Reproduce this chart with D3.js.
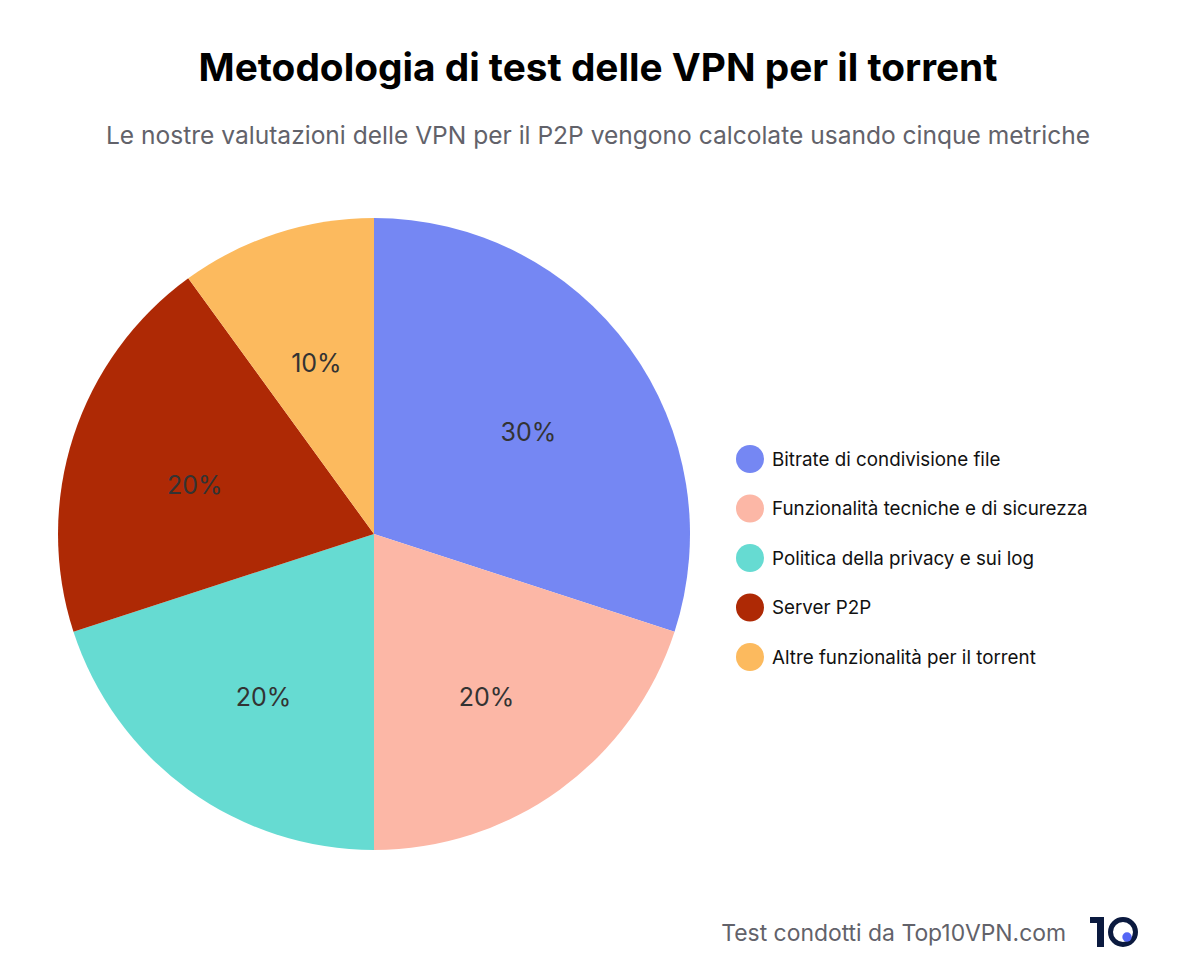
<!DOCTYPE html>
<html>
<head>
<meta charset="utf-8">
<script src="https://cdn.jsdelivr.net/npm/d3@7"></script>
<style>
body { margin: 0; background: #fff; }
text { font-family: "Inter", "Lato", sans-serif; }
</style>
</head>
<body>
<script>
const categories = ["Bitrate di condivisione file", "Funzionalità tecniche e di sicurezza", "Politica della privacy e sui log", "Server P2P", "Altre funzionalità per il torrent"];
const values = [30, 20, 20, 20, 10];
const colors = ["#7587F3", "#FCB7A6", "#66DBD2", "#AE2905", "#FCBA5E"];

const width = 1178, height = 980;
const svg = d3.select("body").append("svg")
    .attr("width", width)
    .attr("height", height)
    .style("display", "block");

svg.append("text").attr("x", 598).attr("y", 81)
    .attr("text-anchor", "middle")
    .attr("font-size", 38.8).attr("font-weight", 700).attr("fill", "#000")
    .text("Metodologia di test delle VPN per il torrent");

svg.append("text").attr("x", 598).attr("y", 144)
    .attr("text-anchor", "middle")
    .attr("font-size", 24.55).attr("fill", "#62626a")
    .text("Le nostre valutazioni delle VPN per il P2P vengono calcolate usando cinque metriche");

const radius = 316;
const pie = d3.pie().sort(null)(values);
const arc = d3.arc().innerRadius(0).outerRadius(radius);
const labelArc = d3.arc().innerRadius(radius * 0.6).outerRadius(radius * 0.6);

const g = svg.append("g").attr("transform", "translate(374,534)");
g.selectAll("path").data(pie).enter().append("path")
    .attr("d", arc)
    .attr("fill", function(d, i) { return colors[i]; });

g.selectAll("text").data(pie).enter().append("text")
    .attr("transform", function(d) {
        const c = labelArc.centroid(d);
        return "translate(" + (c[0] + 1) + "," + (c[1] + 9.5) + ")";
    })
    .attr("text-anchor", "middle")
    .attr("dy", ".35em")
    .attr("font-size", 25).attr("fill", "#333")
    .text(function(d) { return d.data + "%"; });

const legendScale = d3.scalePoint().domain(categories).range([459, 657]);
const legend = svg.selectAll("g.legend").data(categories).enter().append("g")
    .attr("class", "legend")
    .attr("transform", function(d) { return "translate(750," + legendScale(d) + ")"; });
legend.append("circle").attr("r", 14).attr("fill", function(d, i) { return colors[i]; });
legend.append("text").attr("x", 22).attr("dy", ".35em")
    .attr("font-size", 18.8).attr("fill", "#111")
    .text(function(d) { return d; });

svg.append("text").attr("x", 1066).attr("y", 941)
    .attr("text-anchor", "end")
    .attr("font-size", 22.9).attr("fill", "#62626a")
    .text("Test condotti da Top10VPN.com");

// logo: a "1" and a ring with a dot
const logo = svg.append("g").attr("transform", "translate(1090,917)");
logo.append("path")
    .attr("d", "M0,0H14V30H7V6H0Z")
    .attr("fill", "#0b1a3f");
logo.append("circle").attr("cx", 33).attr("cy", 15).attr("r", 12.5)
    .attr("fill", "none").attr("stroke", "#0b1a3f").attr("stroke-width", 5);
logo.append("circle").attr("cx", 37).attr("cy", 20).attr("r", 4.7).attr("fill", "#5566f5");
</script>
</body>
</html>
